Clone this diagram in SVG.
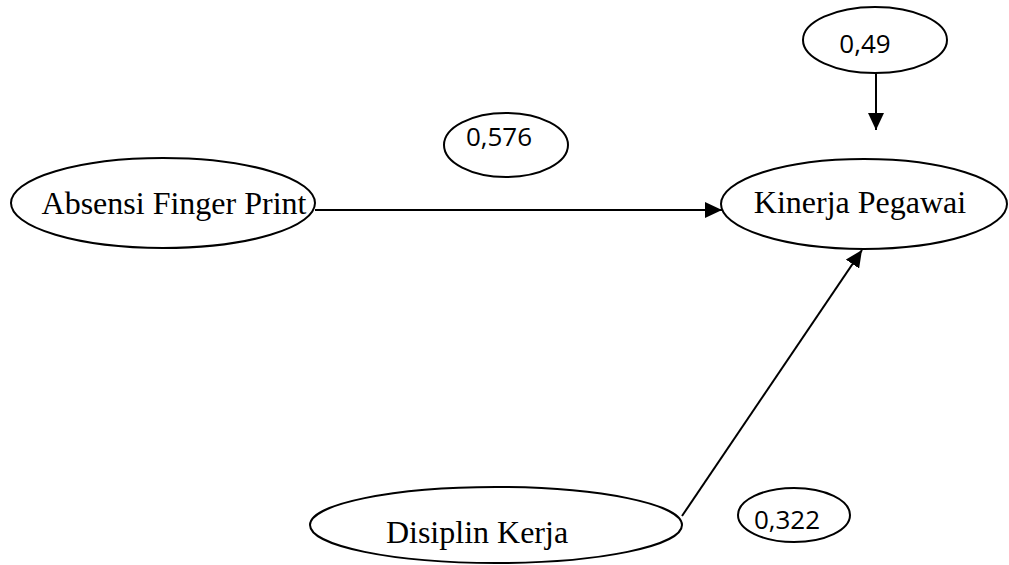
<svg xmlns="http://www.w3.org/2000/svg" width="1009" height="565" viewBox="0 0 1009 565">
<style>
.node ellipse{fill:#fff;stroke:#000;stroke-width:2}
.lbl{font-family:"Liberation Serif","Times New Roman",serif;font-size:32px;fill:#000;text-anchor:middle}
.num{font-family:"Open Sans","Noto Sans",sans-serif;font-size:26px;fill:#000;text-anchor:middle}
.conn line{stroke:#000;stroke-width:2;fill:none}
</style>
<defs>
<marker id="arr" markerUnits="userSpaceOnUse" markerWidth="17" markerHeight="16" refX="17" refY="8" orient="auto">
<path d="M0,0 L17,8 L0,16 z" fill="#000"/>
</marker>
</defs>
<g id="connectors" class="conn">
<line x1="315" y1="210" x2="722" y2="210" marker-end="url(#arr)"/>
<line x1="876" y1="73" x2="876" y2="130" marker-end="url(#arr)"/>
<line x1="682" y1="516" x2="862" y2="250" marker-end="url(#arr)"/>
</g>
<g id="absensi" class="node">
<ellipse cx="163" cy="203" rx="152" ry="45"/>
<text class="lbl" x="174" y="214">Absensi Finger Print</text>
</g>
<g id="kinerja" class="node">
<ellipse cx="864" cy="204" rx="143" ry="45"/>
<text class="lbl" x="860" y="213">Kinerja Pegawai</text>
</g>
<g id="disiplin" class="node">
<ellipse cx="496" cy="525" rx="186" ry="38"/>
<text class="lbl" x="477" y="543">Disiplin Kerja</text>
</g>
<g id="e049" class="node">
<ellipse cx="875" cy="40" rx="72" ry="33"/>
<text class="num" x="865" y="53">0,49</text>
</g>
<g id="e0576" class="node">
<ellipse cx="506" cy="145" rx="62" ry="32"/>
<text class="num" x="499" y="146">0,576</text>
</g>
<g id="e0322" class="node">
<ellipse cx="794" cy="515" rx="56" ry="27"/>
<text class="num" x="787" y="529">0,322</text>
</g>
</svg>
